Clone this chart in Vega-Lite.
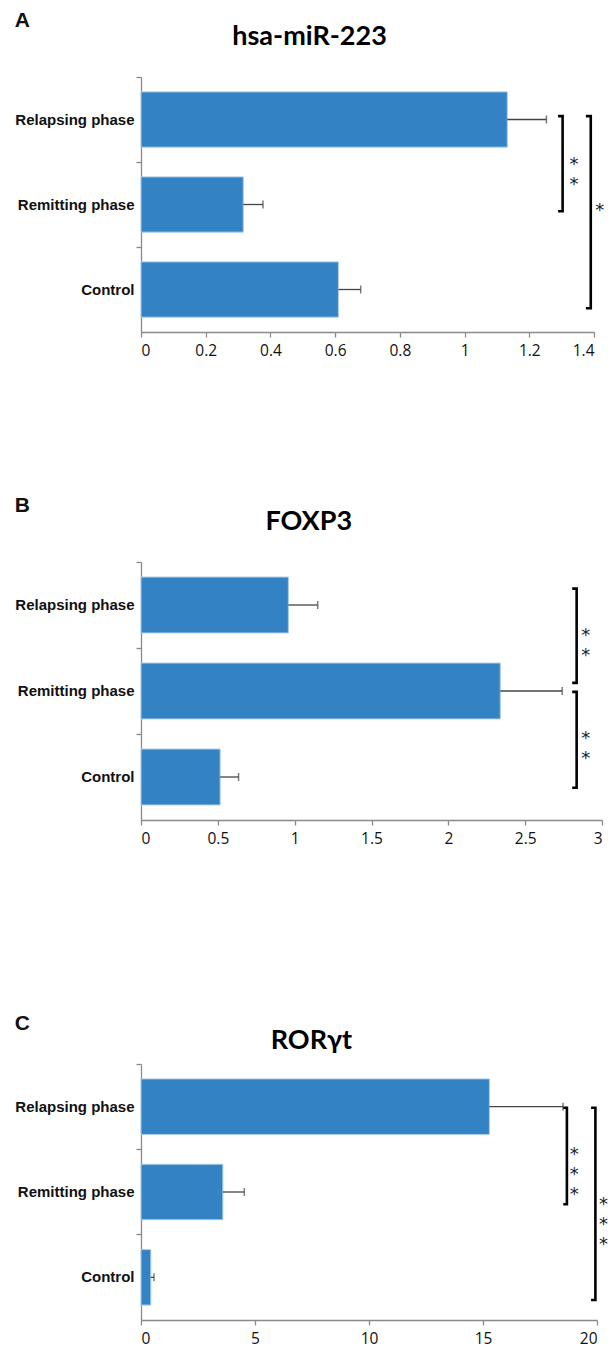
{
  "$schema": "https://vega.github.io/schema/vega-lite/v6.json",
  "padding": {"left": 14, "top": 10, "right": 0, "bottom": 0},
  "background": "white",
  "config": {
    "view": {"stroke": null},
    "axis": {"grid": false, "domainColor": "#8a8a8a", "tickColor": "#8a8a8a", "domainWidth": 1.3, "tickWidth": 1.3},
    "title": {"color": "#111111"},
    "concat": {"spacing": 0}
  },
  "spacing": 166,
  "vconcat": [
    {
      "spacing": 136,
      "vconcat": [
        {
          "title": {"text": "A", "anchor": "start", "frame": "bounds", "font": "Liberation Sans", "fontSize": 21, "fontWeight": "bold", "offset": -8},
          "vconcat": [
            {
              "title": {"text": "hsa-miR-223", "anchor": "middle", "frame": "bounds", "font": "Lato", "fontSize": 27, "fontWeight": "bold", "offset": 25, "color": "#000000"},
              "width": 453,
              "height": 255,
              "layer": [
                {
                  "data": {"values": [
                    {"group": "Relapsing phase", "mean": 1.132, "upper": 1.253},
                    {"group": "Remitting phase", "mean": 0.316, "upper": 0.377},
                    {"group": "Control", "mean": 0.610, "upper": 0.679}
                  ]},
                  "encoding": {
                    "y": {"field": "group", "type": "nominal", "sort": ["Relapsing phase", "Remitting phase", "Control"], "title": null,
                      "scale": {"paddingInner": 0, "paddingOuter": 0},
                      "axis": {"bandPosition": 0, "tickSize": 5, "labelPadding": 2, "labelFont": "Liberation Sans", "labelFontSize": 15, "labelFontWeight": "bold", "labelColor": "#111111"}}
                  },
                  "layer": [
                    {
                      "mark": {"type": "bar", "height": {"band": 0.65}, "color": "#3282c4", "stroke": "#a9cbe9", "strokeWidth": 1},
                      "encoding": {"x": {"field": "mean", "type": "quantitative", "title": null, "scale": {"domain": [0, 1.4], "nice": false},
                        "axis": {"values": [0, 0.2, 0.4, 0.6, 0.8, 1, 1.2, 1.4], "format": "~g", "tickSize": 5, "labelPadding": 6, "labelFont": "Open Sans", "labelFontSize": 15.5, "labelColor": "#111111"}}}
                    },
                    {
                      "mark": {"type": "rule", "color": "#444444", "strokeWidth": 1.3},
                      "encoding": {"x": {"field": "mean", "type": "quantitative", "title": null, "scale": {"domain": [0, 1.4], "nice": false}}, "x2": {"field": "upper"}}
                    },
                    {
                      "mark": {"type": "tick", "orient": "vertical", "size": 8, "thickness": 1.5, "color": "#444444"},
                      "encoding": {"x": {"field": "upper", "type": "quantitative", "title": null, "scale": {"domain": [0, 1.4], "nice": false}}}
                    }
                  ]
                },
                {
                  "data": {"values": [
                    {"b": 1, "o": 1, "x": 1.289, "y": 2.54}, {"b": 1, "o": 2, "x": 1.303, "y": 2.54}, {"b": 1, "o": 3, "x": 1.303, "y": 1.42}, {"b": 1, "o": 4, "x": 1.289, "y": 1.42},
                    {"b": 2, "o": 1, "x": 1.375, "y": 2.54}, {"b": 2, "o": 2, "x": 1.390, "y": 2.54}, {"b": 2, "o": 3, "x": 1.390, "y": 0.28}, {"b": 2, "o": 4, "x": 1.375, "y": 0.28}
                  ]},
                  "mark": {"type": "line", "color": "#000000", "strokeWidth": 2.6, "strokeJoin": "miter", "clip": false},
                  "encoding": {
                    "x": {"field": "x", "type": "quantitative", "title": null, "scale": {"domain": [0, 1.4], "nice": false}},
                    "y": {"field": "y", "type": "quantitative", "title": null, "scale": {"domain": [0, 3], "nice": false}, "axis": null},
                    "detail": {"field": "b"},
                    "order": {"field": "o", "type": "quantitative"}
                  }
                },
                {
                  "data": {"values": [
                    {"t": ["*", "*"], "x": 1.338, "y": 2.015}, {"t": ["*"], "x": 1.418, "y": 1.47}
                  ]},
                  "mark": {"type": "text", "font": "DejaVu Sans", "fontSize": 18, "lineHeight": 20, "color": "#222222", "baseline": "middle", "dy": 4, "clip": false},
                  "encoding": {
                    "x": {"field": "x", "type": "quantitative", "title": null, "scale": {"domain": [0, 1.4], "nice": false}},
                    "y": {"field": "y", "type": "quantitative", "title": null, "scale": {"domain": [0, 3], "nice": false}, "axis": null},
                    "text": {"field": "t"}
                  }
                }
              ],
              "resolve": {"scale": {"y": "independent"}}
            }
          ]
        },
        {
          "title": {"text": "B", "anchor": "start", "frame": "bounds", "font": "Liberation Sans", "fontSize": 21, "fontWeight": "bold", "offset": -8},
          "vconcat": [
            {
              "title": {"text": "FOXP3", "anchor": "middle", "frame": "bounds", "font": "Lato", "fontSize": 27, "fontWeight": "bold", "offset": 25, "color": "#000000"},
              "width": 461,
              "height": 258,
              "layer": [
                {
                  "data": {"values": [
                    {"group": "Relapsing phase", "mean": 0.959, "upper": 1.150},
                    {"group": "Remitting phase", "mean": 2.338, "upper": 2.741},
                    {"group": "Control", "mean": 0.515, "upper": 0.635}
                  ]},
                  "encoding": {
                    "y": {"field": "group", "type": "nominal", "sort": ["Relapsing phase", "Remitting phase", "Control"], "title": null,
                      "scale": {"paddingInner": 0, "paddingOuter": 0},
                      "axis": {"bandPosition": 0, "tickSize": 5, "labelPadding": 2, "labelFont": "Liberation Sans", "labelFontSize": 15, "labelFontWeight": "bold", "labelColor": "#111111"}}
                  },
                  "layer": [
                    {
                      "mark": {"type": "bar", "height": {"band": 0.65}, "color": "#3282c4", "stroke": "#a9cbe9", "strokeWidth": 1},
                      "encoding": {"x": {"field": "mean", "type": "quantitative", "title": null, "scale": {"domain": [0, 3], "nice": false},
                        "axis": {"values": [0, 0.5, 1, 1.5, 2, 2.5, 3], "format": "~g", "tickSize": 5, "labelPadding": 6, "labelFont": "Open Sans", "labelFontSize": 15.5, "labelColor": "#111111"}}}
                    },
                    {
                      "mark": {"type": "rule", "color": "#444444", "strokeWidth": 1.3},
                      "encoding": {"x": {"field": "mean", "type": "quantitative", "title": null, "scale": {"domain": [0, 3], "nice": false}}, "x2": {"field": "upper"}}
                    },
                    {
                      "mark": {"type": "tick", "orient": "vertical", "size": 8, "thickness": 1.5, "color": "#444444"},
                      "encoding": {"x": {"field": "upper", "type": "quantitative", "title": null, "scale": {"domain": [0, 3], "nice": false}}}
                    }
                  ]
                },
                {
                  "data": {"values": [
                    {"b": 1, "o": 1, "x": 2.806, "y": 2.69}, {"b": 1, "o": 2, "x": 2.835, "y": 2.69}, {"b": 1, "o": 3, "x": 2.835, "y": 1.595}, {"b": 1, "o": 4, "x": 2.806, "y": 1.595},
                    {"b": 2, "o": 1, "x": 2.806, "y": 1.49}, {"b": 2, "o": 2, "x": 2.835, "y": 1.49}, {"b": 2, "o": 3, "x": 2.835, "y": 0.375}, {"b": 2, "o": 4, "x": 2.806, "y": 0.375}
                  ]},
                  "mark": {"type": "line", "color": "#000000", "strokeWidth": 2.6, "strokeJoin": "miter", "clip": false},
                  "encoding": {
                    "x": {"field": "x", "type": "quantitative", "title": null, "scale": {"domain": [0, 3], "nice": false}},
                    "y": {"field": "y", "type": "quantitative", "title": null, "scale": {"domain": [0, 3], "nice": false}, "axis": null},
                    "detail": {"field": "b"},
                    "order": {"field": "o", "type": "quantitative"}
                  }
                },
                {
                  "data": {"values": [
                    {"t": ["*", "*"], "x": 2.895, "y": 2.19},
                    {"t": ["*", "*"], "x": 2.895, "y": 0.983}
                  ]},
                  "mark": {"type": "text", "font": "DejaVu Sans", "fontSize": 18, "lineHeight": 20, "color": "#222222", "baseline": "middle", "dy": 4, "clip": false},
                  "encoding": {
                    "x": {"field": "x", "type": "quantitative", "title": null, "scale": {"domain": [0, 3], "nice": false}},
                    "y": {"field": "y", "type": "quantitative", "title": null, "scale": {"domain": [0, 3], "nice": false}, "axis": null},
                    "text": {"field": "t"}
                  }
                }
              ],
              "resolve": {"scale": {"y": "independent"}}
            }
          ]
        }
      ]
    },
    {
      "title": {"text": "C", "anchor": "start", "frame": "bounds", "font": "Liberation Sans", "fontSize": 21, "fontWeight": "bold", "offset": -7},
      "vconcat": [
        {
          "title": {"text": "RORγt", "anchor": "middle", "frame": "bounds", "font": "Lato", "fontSize": 27, "fontWeight": "bold", "offset": 8, "color": "#000000"},
          "width": 456,
          "height": 256,
          "layer": [
            {
              "data": {"values": [
                {"group": "Relapsing phase", "mean": 15.28, "upper": 18.51},
                {"group": "Remitting phase", "mean": 3.59, "upper": 4.53},
                {"group": "Control", "mean": 0.43, "upper": 0.57}
              ]},
              "encoding": {
                "y": {"field": "group", "type": "nominal", "sort": ["Relapsing phase", "Remitting phase", "Control"], "title": null,
                  "scale": {"paddingInner": 0, "paddingOuter": 0},
                  "axis": {"bandPosition": 0, "tickSize": 5, "labelPadding": 2, "labelFont": "Liberation Sans", "labelFontSize": 15, "labelFontWeight": "bold", "labelColor": "#111111"}}
              },
              "layer": [
                {
                  "mark": {"type": "bar", "height": {"band": 0.65}, "color": "#3282c4", "stroke": "#a9cbe9", "strokeWidth": 1},
                  "encoding": {"x": {"field": "mean", "type": "quantitative", "title": null, "scale": {"domain": [0, 20], "nice": false},
                    "axis": {"values": [0, 5, 10, 15, 20], "format": "~g", "tickSize": 5, "labelPadding": 6, "labelFont": "Open Sans", "labelFontSize": 15.5, "labelColor": "#111111"}}}
                },
                {
                  "mark": {"type": "rule", "color": "#444444", "strokeWidth": 1.3},
                  "encoding": {"x": {"field": "mean", "type": "quantitative", "title": null, "scale": {"domain": [0, 20], "nice": false}}, "x2": {"field": "upper"}}
                },
                {
                  "mark": {"type": "tick", "orient": "vertical", "size": 8, "thickness": 1.5, "color": "#444444"},
                  "encoding": {"x": {"field": "upper", "type": "quantitative", "title": null, "scale": {"domain": [0, 20], "nice": false}}}
                }
              ]
            },
            {
              "data": {"values": [
                {"b": 1, "o": 1, "x": 18.52, "y": 2.488}, {"b": 1, "o": 2, "x": 18.68, "y": 2.488}, {"b": 1, "o": 3, "x": 18.68, "y": 1.356}, {"b": 1, "o": 4, "x": 18.52, "y": 1.356},
                {"b": 2, "o": 1, "x": 19.74, "y": 2.488}, {"b": 2, "o": 2, "x": 19.93, "y": 2.488}, {"b": 2, "o": 3, "x": 19.93, "y": 0.234}, {"b": 2, "o": 4, "x": 19.74, "y": 0.234}
              ]},
              "mark": {"type": "line", "color": "#000000", "strokeWidth": 2.6, "strokeJoin": "miter", "clip": false},
              "encoding": {
                "x": {"field": "x", "type": "quantitative", "title": null, "scale": {"domain": [0, 20], "nice": false}},
                "y": {"field": "y", "type": "quantitative", "title": null, "scale": {"domain": [0, 3], "nice": false}, "axis": null},
                "detail": {"field": "b"},
                "order": {"field": "o", "type": "quantitative"}
              }
            },
            {
              "data": {"values": [
                {"t": ["*", "*", "*"], "x": 19.0, "y": 1.981},
                {"t": ["*", "*", "*"], "x": 20.29, "y": 1.395}
              ]},
              "mark": {"type": "text", "font": "DejaVu Sans", "fontSize": 18, "lineHeight": 20, "color": "#222222", "baseline": "middle", "dy": 4, "clip": false},
              "encoding": {
                "x": {"field": "x", "type": "quantitative", "title": null, "scale": {"domain": [0, 20], "nice": false}},
                "y": {"field": "y", "type": "quantitative", "title": null, "scale": {"domain": [0, 3], "nice": false}, "axis": null},
                "text": {"field": "t"}
              }
            }
          ],
          "resolve": {"scale": {"y": "independent"}}
        }
      ]
    }
  ]
}
